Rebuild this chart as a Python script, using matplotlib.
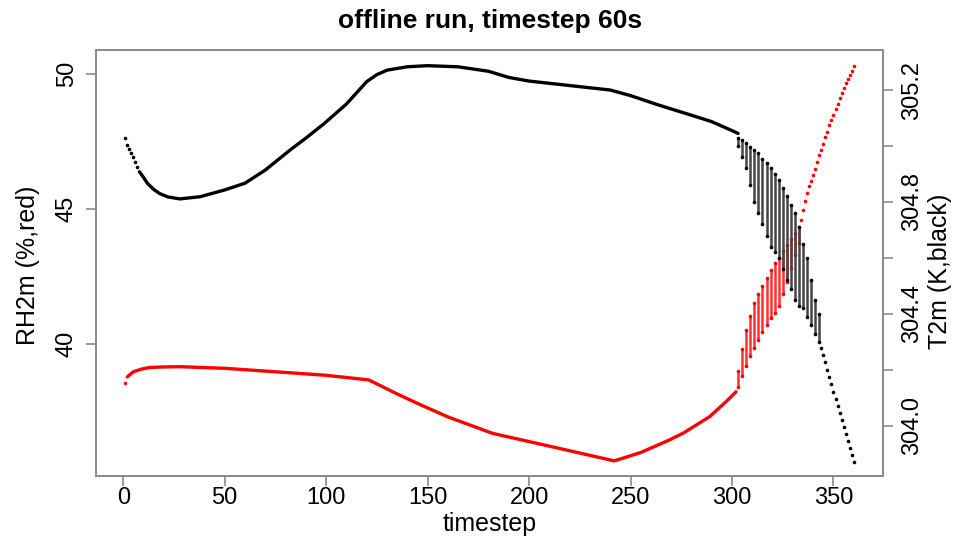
import matplotlib
matplotlib.use("Agg")
import matplotlib.pyplot as plt

# ---------------- data ----------------
# Black: T2m (K), right axis
t_line_ts = [8, 10, 12, 15, 18, 22, 28, 38, 50, 60, 70, 83, 90, 99, 110, 120,
             125, 130, 140, 150, 165, 180, 190, 200, 215, 240,
             250, 264, 280, 290, 300, 303]
t_line_val = [304.908, 304.888, 304.866, 304.845, 304.830, 304.818, 304.811,
              304.819, 304.843, 304.867, 304.914, 304.990, 305.028, 305.080,
              305.150, 305.230, 305.255, 305.271, 305.283, 305.287, 305.283,
              305.267, 305.245, 305.232, 305.220, 305.200, 305.180, 305.146,
              305.110, 305.087, 305.055, 305.045]
t_dot_ts = [1, 2, 3, 4, 5, 6, 7,
            344, 345, 346, 347, 348, 349, 350, 351, 352, 353, 354, 355,
            356, 357, 358, 359, 360]
t_dot_val = [305.030, 305.004, 304.989, 304.975, 304.960, 304.944, 304.926,
             304.280, 304.255, 304.230, 304.200, 304.175, 304.150, 304.120,
             304.095, 304.070, 304.045, 304.020, 303.995, 303.970, 303.945,
             303.920, 303.895, 303.870]
t_osc_ts = [303, 305, 307, 309, 311, 313, 315, 317, 319, 321, 323,
            325, 327, 329, 331, 333, 335, 337, 339, 341, 343]
t_osc_hi = [305.030, 305.020, 305.010, 304.995, 304.985, 304.975, 304.955,
            304.940, 304.920, 304.900, 304.880, 304.850, 304.820, 304.790,
            304.760, 304.710, 304.650, 304.600, 304.520, 304.450, 304.400]
t_osc_lo = [305.000, 304.960, 304.920, 304.860, 304.800, 304.760, 304.720,
            304.680, 304.640, 304.620, 304.600, 304.560, 304.520, 304.490,
            304.450, 304.430, 304.420, 304.390, 304.360, 304.330, 304.300]

# Red: RH2m (%), left axis
rh_line_ts = [2, 5, 9, 13, 20, 28, 50, 83, 100, 121, 135, 145, 160, 182,
              211, 242, 255, 269, 276, 289, 297, 302]
rh_line_val = [38.78, 38.97, 39.07, 39.13, 39.15, 39.16, 39.10, 38.93,
               38.84, 38.67, 38.15, 37.80, 37.30, 36.69, 36.20, 35.67,
               35.98, 36.44, 36.70, 37.31, 37.86, 38.23]
rh_dot_ts = [1, 334, 335, 336, 337, 338, 339, 340, 341, 342, 343, 344,
             345, 346, 347, 348, 349, 350, 351, 352, 353, 354, 355, 356,
             357, 358, 359, 360]
rh_dot_val = [38.55, 44.60, 44.95, 45.30, 45.60, 45.85, 46.05, 46.25,
              46.50, 46.75, 47.00, 47.20, 47.40, 47.65, 47.85, 48.10,
              48.30, 48.50, 48.70, 48.90, 49.10, 49.30, 49.50, 49.65,
              49.80, 49.95, 50.10, 50.30]
rh_osc_ts = [303, 305, 307, 309, 311, 313, 315, 317, 319, 321, 323,
             325, 327, 329, 331, 333]
rh_osc_lo = [38.40, 38.80, 39.20, 39.55, 39.85, 40.15, 40.45, 40.70,
             40.95, 41.15, 41.40, 41.85, 42.30, 42.80, 43.30, 43.75]
rh_osc_hi = [39.00, 39.80, 40.50, 41.05, 41.50, 41.85, 42.15, 42.45,
             42.75, 43.00, 43.20, 43.45, 43.65, 43.90, 44.10, 44.35]

x_ticks = [0, 50, 100, 150, 200, 250, 300, 350]
rh_ticks = [40, 45, 50]
t_ticks = [304.0, 304.2, 304.4, 304.6, 304.8, 305.0, 305.2]
t_tick_labels = ["304.0", "", "304.4", "", "304.8", "", "305.2"]

# ---------------- figure ----------------
plt.rcParams["font.family"] = ["Liberation Sans", "DejaVu Sans"]
W, H = 967, 540
fig = plt.figure(figsize=(W / 100, H / 100), dpi=100)
L, R, T, B = 96, 883, 50, 476
ax = fig.add_axes([L / W, 1 - B / H, (R - L) / W, (B - T) / H])
ax2 = ax.twinx()

frame_col = "#8a8a8a"
ms = 2.6

# RH (red)
ax.plot(rh_line_ts, rh_line_val, color="red", lw=2.4, solid_capstyle="round",
        solid_joinstyle="round")
ax.vlines(rh_osc_ts, rh_osc_lo, rh_osc_hi, color="#ff3030", lw=1.8)
ax.plot(rh_osc_ts, rh_osc_lo, "o", color="red", ms=ms, mec="none")
ax.plot(rh_osc_ts, rh_osc_hi, "o", color="red", ms=ms, mec="none")
ax.plot(rh_dot_ts, rh_dot_val, "o", color="red", ms=ms, mec="none")

# T (black)
ax2.plot(t_line_ts, t_line_val, color="black", lw=2.4, solid_capstyle="round",
         solid_joinstyle="round")
ax2.vlines(t_osc_ts, t_osc_lo, t_osc_hi, color="#454545", lw=1.8)
ax2.plot(t_osc_ts, t_osc_lo, "o", color="black", ms=ms, mec="none")
ax2.plot(t_osc_ts, t_osc_hi, "o", color="black", ms=ms, mec="none")
ax2.plot(t_dot_ts, t_dot_val, "o", color="black", ms=ms, mec="none")

# limits (R style 4% padding)
ax.set_xlim(-13.4, 374.4)
ax.set_ylim(35.111, 50.889)
ax2.set_ylim(303.821, 305.343)

ax.set_xticks(x_ticks)
ax.set_xticklabels([str(v) for v in x_ticks])
ax.set_yticks(rh_ticks)
ax.set_yticklabels([str(v) for v in rh_ticks])
ax2.set_yticks(t_ticks)
ax2.set_yticklabels(t_tick_labels)

fs = 17
ax.tick_params(axis="x", direction="out", length=7, width=1.2,
               color=frame_col, labelsize=fs, pad=1)
ax.tick_params(axis="y", direction="out", length=7, width=1.2,
               color=frame_col, labelsize=fs, pad=6)
ax2.tick_params(axis="y", direction="out", length=7, width=1.2,
                color=frame_col, labelsize=fs, pad=6)
plt.setp(ax.get_yticklabels(), rotation=90, va="center")
plt.setp(ax2.get_yticklabels(), rotation=90, va="center")

for a in (ax, ax2):
    for s in a.spines.values():
        s.set_color(frame_col)
        s.set_linewidth(1.3)

ax.set_ylabel("RH2m (%,red)", fontsize=18)
ax.yaxis.set_label_coords(-0.071, 0.495)
ax2.set_ylabel("T2m (K,black)", fontsize=18)
ax2.yaxis.set_label_coords(1.057, 0.48)

fig.text(490 / W, 1 - 524 / H, "timestep", ha="center", va="center", fontsize=18)
fig.text(490 / W, 1 - 21 / H, "offline run, timestep 60s", ha="center",
         va="center", fontsize=19, fontweight="bold")

fig.savefig("out.png", dpi=100)
